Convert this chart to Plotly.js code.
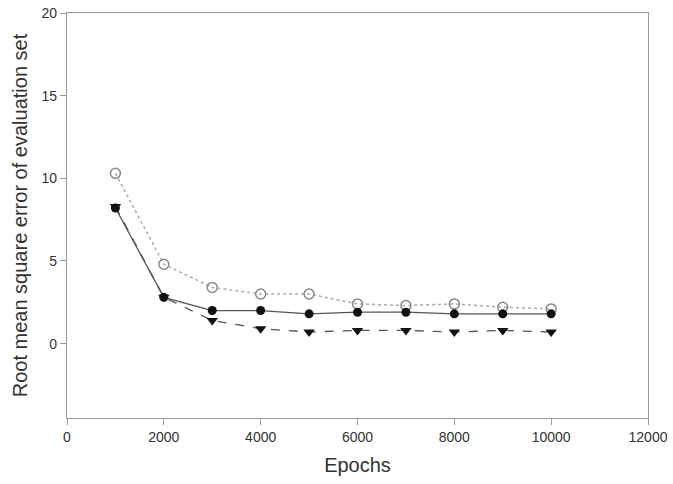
<!DOCTYPE html>
<html><head><meta charset="utf-8">
<script src="https://cdn.plot.ly/plotly-3.0.1.min.js"></script>
<style>html,body{margin:0;padding:0;background:#fff}</style>
</head><body>
<div id="chart" style="width:673px;height:484px"></div>
<script>
const epochs = [1000, 2000, 3000, 4000, 5000, 6000, 7000, 8000, 9000, 10000];
const openCircle = [10.3, 4.8, 3.4, 3.0, 3.0, 2.4, 2.3, 2.4, 2.2, 2.1];
const filledCircle = [8.2, 2.8, 2.0, 2.0, 1.8, 1.9, 1.9, 1.8, 1.8, 1.8];
const triangle = [8.3, 2.8, 1.4, 0.9, 0.7, 0.8, 0.8, 0.7, 0.8, 0.7];
const xTicks = [0, 2000, 4000, 6000, 8000, 10000, 12000];
const yTicks = [0, 5, 10, 15, 20];

const traces = [
  {x: epochs, y: openCircle, mode: 'lines+markers', type: 'scatter',
   line: {color: '#aaaaaa', dash: 'dot', width: 1.5},
   marker: {symbol: 'circle-open', size: 10, color: '#888888', line: {width: 1.5, color: '#888888'}}},
  {x: epochs, y: triangle, mode: 'lines+markers', type: 'scatter',
   line: {color: '#555555', dash: 'dash', width: 1.3},
   marker: {symbol: 'triangle-down', size: 10, color: '#111111'}},
  {x: epochs, y: filledCircle, mode: 'lines+markers', type: 'scatter',
   line: {color: '#555555', width: 1.3},
   marker: {symbol: 'circle', size: 9, color: '#111111'}}
];
const axCommon = {showgrid: false, zeroline: false, showline: true, mirror: true,
  linecolor: '#999999', linewidth: 1.2, ticks: 'outside', ticklen: 6, tickcolor: '#999999',
  tickfont: {family: 'Liberation Sans, Arial, sans-serif', size: 14, color: '#333'}};
const layout = {
  width: 673, height: 484, showlegend: false,
  paper_bgcolor: '#fff', plot_bgcolor: '#fff',
  margin: {l: 67, r: 25, t: 13, b: 66},
  xaxis: Object.assign({}, axCommon, {range: [0, 12000], tickvals: xTicks, ticktext: xTicks.map(String),
    title: {text: 'Epochs', font: {family: 'Liberation Sans, Arial, sans-serif', size: 20, color: '#333'}, standoff: 14}}),
  yaxis: Object.assign({}, axCommon, {range: [-4.5, 20], tickvals: yTicks, ticktext: yTicks.map(String),
    title: {text: 'Root mean square error of evaluation set', font: {family: 'Liberation Sans, Arial, sans-serif', size: 20, color: '#333'}, standoff: 8}})
};
Plotly.newPlot('chart', traces, layout, {displayModeBar: false});
</script>
</body></html>
